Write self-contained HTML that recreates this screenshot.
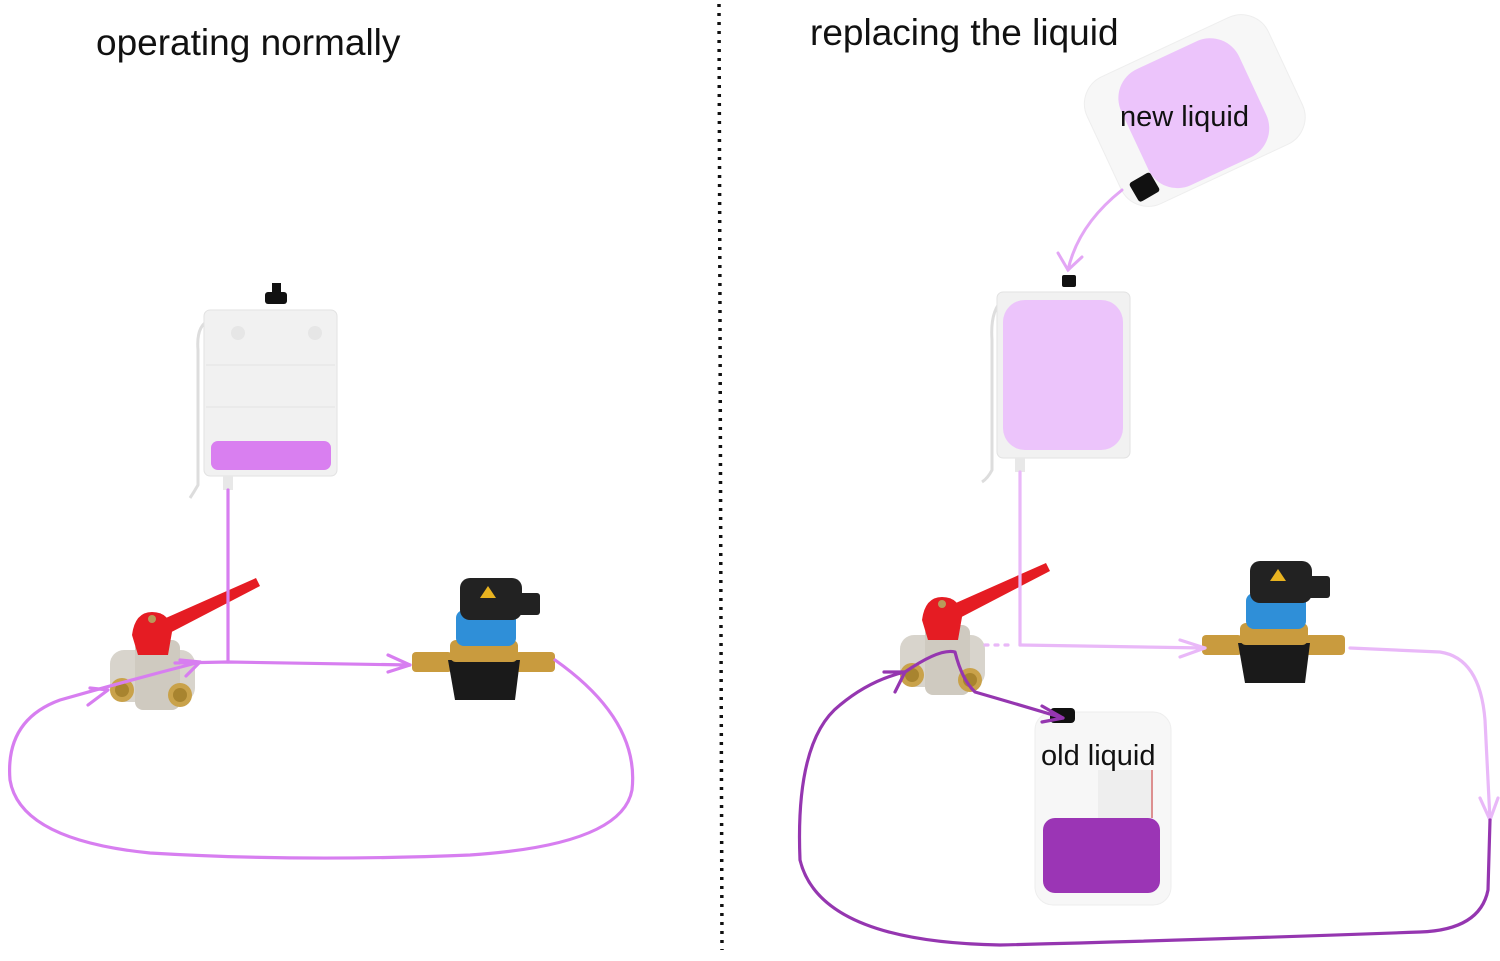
<!DOCTYPE html>
<html><head><meta charset="utf-8"><style>
html,body{margin:0;padding:0;background:#fff;width:1500px;height:961px;overflow:hidden}
svg text{font-family:"Liberation Sans",sans-serif;fill:#111}
</style></head><body>
<svg width="1500" height="961" viewBox="0 0 1500 961" xmlns="http://www.w3.org/2000/svg">
<defs>
<g id="valve">
  <path d="M150,625 L256,578 L260,586 L160,638 Z" fill="#e51c23"/>
  <rect x="110" y="650" width="85" height="52" rx="14" fill="#d8d4cc"/>
  <rect x="135" y="640" width="45" height="70" rx="8" fill="#cfcac0"/>
  <circle cx="122" cy="690" r="12" fill="#c9a24a"/><circle cx="122" cy="690" r="7" fill="#a8842f"/>
  <circle cx="180" cy="695" r="12" fill="#c9a24a"/><circle cx="180" cy="695" r="7" fill="#a8842f"/>
  <path d="M132,635 Q135,612 152,612 Q170,612 172,632 L168,655 L138,655 Z" fill="#e51c23"/>
  <circle cx="152" cy="619" r="4" fill="#b89a5a"/>
</g>
<g id="pump">
  <rect x="412" y="652" width="40" height="20" rx="4" fill="#c99b3e"/>
  <rect x="515" y="652" width="40" height="20" rx="4" fill="#c99b3e"/>
  <path d="M448,660 L520,660 L515,700 L455,700 Z" fill="#1a1a1a"/>
  <rect x="450" y="640" width="68" height="22" rx="6" fill="#c99b3e"/>
  <rect x="456" y="610" width="60" height="36" rx="8" fill="#2f8fd8"/>
  <rect x="460" y="578" width="62" height="42" rx="10" fill="#222"/>
  <rect x="518" y="593" width="22" height="22" rx="3" fill="#222"/>
  <path d="M480,598 L488,586 L496,598 Z" fill="#e8b320"/>
</g>
</defs>

<text x="96" y="55" font-size="37">operating normally</text>
<text x="810" y="45" font-size="37">replacing the liquid</text>

<line x1="719" y1="4" x2="722" y2="950" stroke="#111" stroke-width="3.5" stroke-dasharray="3,6"/>

<!-- LEFT tank -->
<rect x="272" y="283" width="9" height="14" fill="#111"/>
<rect x="265" y="292" width="22" height="12" rx="3" fill="#111"/>
<path d="M210,320 Q196,325 198,350 L198,485 Q194,492 190,498" fill="none" stroke="#ddd" stroke-width="3"/>
<rect x="204" y="310" width="133" height="166" rx="6" fill="#f1f1f1" stroke="#e2e2e2"/>
<circle cx="238" cy="333" r="7" fill="#e6e6e6"/><circle cx="315" cy="333" r="7" fill="#e6e6e6"/>
<line x1="206" y1="365" x2="335" y2="365" stroke="#e2e2e2"/>
<line x1="206" y1="407" x2="335" y2="407" stroke="#e2e2e2"/>
<rect x="211" y="441" width="120" height="29" rx="7" fill="#d97ff0"/>
<rect x="223" y="476" width="10" height="14" fill="#e8e8e8"/>

<use href="#valve"/>
<use href="#pump"/>

<g fill="none" stroke="#d77ef0" stroke-width="3.2" stroke-linecap="round" stroke-linejoin="round">
  <line x1="228" y1="490" x2="228" y2="662"/>
  <path d="M175,663 L228,662 L410,665"/>
  <path d="M388,655 L410,665 L388,672"/>
  <path d="M555,660 Q640,720 632,790 Q622,845 470,855 Q300,862 150,853 Q20,840 10,780 Q5,720 60,700 Q130,680 200,662"/>
  <path d="M180,660 L200,662 L186,676"/>
  <path d="M90,688 L108,690 L88,705"/>
</g>

<!-- RIGHT new liquid jug -->
<g transform="rotate(-25 1190 105)">
  <rect x="1092" y="42" width="200" height="140" rx="30" fill="#f7f7f7" stroke="#eee"/>
  <rect x="1125" y="50" width="130" height="128" rx="32" fill="#ecc4fb"/>
</g>
<g transform="rotate(-30 1145 188)"><rect x="1133" y="176" width="24" height="22" rx="3" fill="#111"/></g>
<text x="1120" y="126" font-size="29">new liquid</text>
<g fill="none" stroke="#e3a6f5" stroke-width="3" stroke-linecap="round">
  <path d="M1122,190 Q1078,225 1068,270"/>
  <path d="M1058,253 L1068,270 L1082,257"/>
</g>

<!-- right tank -->
<rect x="1062" y="275" width="14" height="12" rx="2" fill="#111"/>
<path d="M1003,300 Q990,310 992,340 L992,470 Q988,478 982,482" fill="none" stroke="#ddd" stroke-width="3"/>
<rect x="997" y="292" width="133" height="166" rx="6" fill="#f1f1f1" stroke="#e2e2e2"/>
<rect x="1003" y="300" width="120" height="150" rx="22" fill="#ecc4fb"/>
<rect x="1015" y="458" width="10" height="14" fill="#e8e8e8"/>

<use href="#valve" transform="translate(790,-15)"/>
<use href="#pump" transform="translate(790,-17)"/>

<g fill="none" stroke="#e9b8f8" stroke-width="3.2" stroke-linecap="round" stroke-linejoin="round">
  <line x1="1020" y1="472" x2="1020" y2="645"/>
  <line x1="985" y1="645" x2="1012" y2="645" stroke-dasharray="3,7"/>
  <path d="M1020,645 L1205,648"/>
  <path d="M1180,640 L1205,648 L1180,657"/>
  <path d="M1350,648 L1440,652 Q1480,658 1485,720 L1490,820"/>
  <path d="M1480,798 L1490,820 L1498,798"/>
</g>

<!-- old liquid jug -->
<rect x="1035" y="712" width="136" height="193" rx="18" fill="#f7f7f7" stroke="#eee"/>
<rect x="1050" y="708" width="25" height="15" rx="4" fill="#111"/>
<rect x="1098" y="770" width="55" height="48" fill="#eee"/>
<line x1="1152" y1="770" x2="1152" y2="818" stroke="#c33"/>
<rect x="1043" y="818" width="117" height="75" rx="12" fill="#9b35b5"/>
<text x="1041" y="765" font-size="29">old liquid</text>

<g fill="none" stroke="#9536b0" stroke-width="3.2" stroke-linecap="round" stroke-linejoin="round">
  <path d="M905,672 Q940,648 955,652 Q962,680 975,692 Q1020,705 1063,718"/>
  <path d="M1042,706 L1063,718 L1042,722"/>
  <path d="M1490,820 L1488,890 Q1480,930 1420,932 Q1200,940 1000,945 Q820,942 800,860 Q795,740 840,705 Q870,680 905,672"/>
  <path d="M884,672 L905,672 L895,692"/>
</g>
</svg>
</body></html>
